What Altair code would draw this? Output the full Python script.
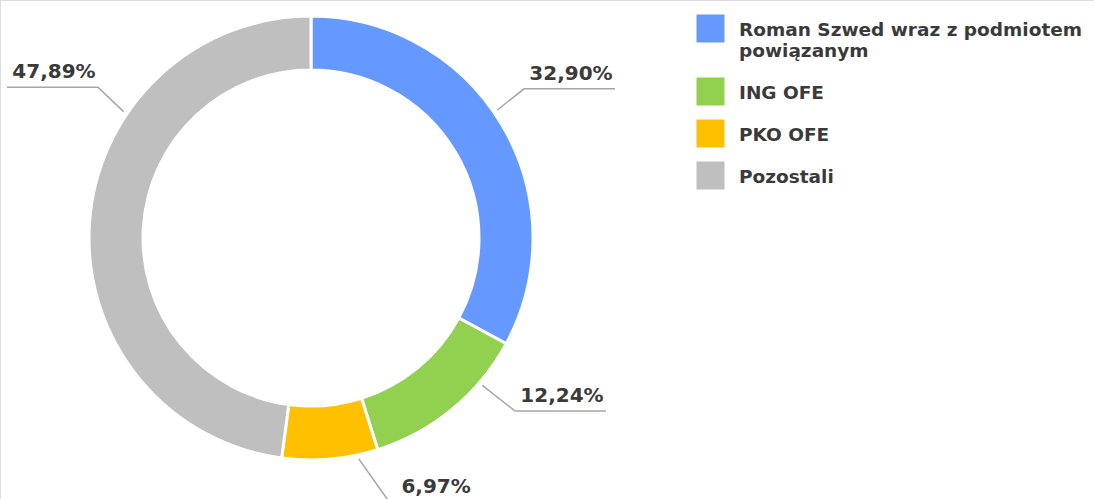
import math
import textwrap
import altair as alt
import pandas as pd

# ---- data ----
categories = ["Roman Szwed wraz z podmiotem powiązanym", "ING OFE", "PKO OFE", "Pozostali"]
shares = [32.90, 12.24, 6.97, 47.89]
colors = ["#6699FF", "#92D050", "#FFC000", "#BFBFBF"]

# ---- layout (annotation placement, not data) ----
W, H = 1094, 499
CX, CY = 311, 238
R_IN, R_OUT = 168, 222
anchor_deg = [55.5, 130.7, 167.8, -56.0]
elbow_deg = [55.0, 130.3, 163.5, -54.7]
elbow_r = [260, 267.5, 275, 261]
ANCHOR_R = 226
HLEN = 91
TEXT_COLOR = "#3A3A3A"
LINE_COLOR = "#A6A6A6"
FONT = "DejaVu Sans"

df = pd.DataFrame({"cat": categories, "share": shares, "idx": range(len(categories))})
df["label"] = [f"{v:.2f}".replace(".", ",") + "%" for v in shares]

def polar(deg, r):
    a = math.radians(deg)
    return CX + r * math.sin(a), CY - r * math.cos(a)

line_rows, text_rows = [], []
for i, c in enumerate(categories):
    ax, ay = polar(anchor_deg[i], ANCHOR_R)
    ex, ey = polar(elbow_deg[i], elbow_r[i])
    d = 1 if ex > CX else -1
    hx = ex + d * HLEN
    line_rows += [
        {"cat": c, "o": 0, "x": ax, "y": ay},
        {"cat": c, "o": 1, "x": ex, "y": ey},
        {"cat": c, "o": 2, "x": hx, "y": ey},
    ]
    text_rows.append({"cat": c, "x": (ex + hx) / 2 + 1.5, "y": ey - 9, "label": df.label[i]})
lines_df = pd.DataFrame(line_rows)
text_df = pd.DataFrame(text_rows)

# manual legend
leg_rows = []
top = 15
for i, c in enumerate(categories):
    wrapped = textwrap.wrap(c, 28)
    leg_rows.append({"cat": c, "sx": 710.5, "sy": top + 13.5, "tx": 739, "ty": top + 21,
                     "text": "\n".join(wrapped)})
    top += 42 + 21 * (len(wrapped) - 1)
leg_df = pd.DataFrame(leg_rows)

xs = alt.Scale(domain=[0, W], nice=False, zero=False)
ys = alt.Scale(domain=[0, H], nice=False, zero=False, reverse=True)
cs = alt.Scale(domain=categories, range=colors)

arcs = alt.Chart(df).mark_arc(
    innerRadius=R_IN, outerRadius=R_OUT, stroke="white", strokeWidth=3
).encode(
    theta=alt.Theta("share:Q", stack=True),
    order=alt.Order("idx:Q"),
    color=alt.Color("cat:N", scale=cs, legend=None),
    x=alt.value(CX),
    y=alt.value(CY),
)

leaders = alt.Chart(lines_df).mark_line(color=LINE_COLOR, strokeWidth=1.5).encode(
    x=alt.X("x:Q", scale=xs, axis=None),
    y=alt.Y("y:Q", scale=ys, axis=None),
    detail="cat:N",
    order="o:Q",
)

pct = alt.Chart(text_df).mark_text(
    font=FONT, fontSize=20, fontWeight="bold", color=TEXT_COLOR,
    align="center", baseline="alphabetic"
).encode(
    x=alt.X("x:Q", scale=xs, axis=None),
    y=alt.Y("y:Q", scale=ys, axis=None),
    text="label:N",
)

leg_sq = alt.Chart(leg_df).mark_square(size=28 * 28, opacity=1).encode(
    x=alt.X("sx:Q", scale=xs, axis=None),
    y=alt.Y("sy:Q", scale=ys, axis=None),
    color=alt.Color("cat:N", scale=cs, legend=None),
)

leg_txt = alt.Chart(leg_df).mark_text(
    font=FONT, fontSize=18.5, fontWeight="bold", color=TEXT_COLOR,
    align="left", baseline="alphabetic", lineBreak="\n", lineHeight=21
).encode(
    x=alt.X("tx:Q", scale=xs, axis=None),
    y=alt.Y("ty:Q", scale=ys, axis=None),
    text="text:N",
)

chart = alt.layer(arcs, leaders, pct, leg_sq, leg_txt).properties(
    width=W, height=H, autosize=alt.AutoSizeParams(type="none"), padding=0
).configure_view(stroke=None).configure(background="white")

chart.save("out.html", embed_options={"renderer": "svg", "actions": False})
